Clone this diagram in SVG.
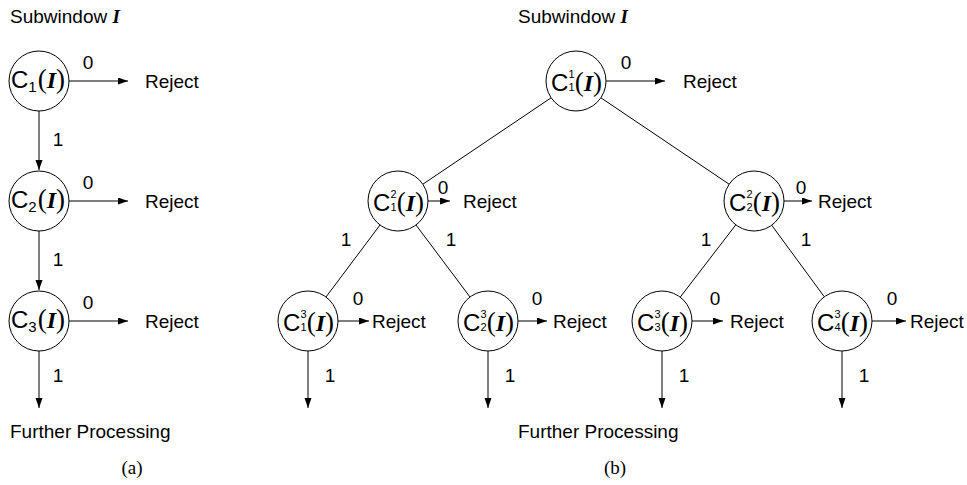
<svg xmlns="http://www.w3.org/2000/svg" width="967" height="485" viewBox="0 0 967 485">
<style>
text{font-family:"Liberation Sans",Arial,sans-serif;fill:#000}
.t{font-size:19px}
.n{font-size:24px}
.cap{font-family:"Liberation Serif","Times New Roman",serif;font-size:19px}
.I{font-family:"Liberation Serif","Times New Roman",serif;font-weight:bold;font-style:italic}
.p{font-family:"Liberation Serif","Times New Roman",serif;font-size:27px}
.p .I{font-size:24px}
.s1{font-size:15px}
.s2{font-size:11px}
.node circle{fill:#fff;stroke:#000;stroke-width:1}
.e{stroke:#000;stroke-width:1;fill:none}
.a{marker-end:url(#ah)}
</style>
<defs>
<marker id="ah" markerUnits="userSpaceOnUse" markerWidth="11" markerHeight="8" refX="10" refY="3.5" orient="auto">
<path d="M0,0 L10,3.5 L0,7 z" fill="#000"/>
</marker>
</defs>
<rect width="967" height="485" fill="#fff"/>
<text class="t" x="10" y="23">Subwindow <tspan class="I">I</tspan></text>
<text class="t" x="518" y="23">Subwindow <tspan class="I">I</tspan></text>
<g id="connectors">
<line class="e a" x1="69" y1="81" x2="128" y2="81"/>
<line class="e a" x1="69" y1="201" x2="128" y2="201"/>
<line class="e a" x1="69" y1="321" x2="128" y2="321"/>
<line class="e a" x1="39" y1="111" x2="39" y2="170"/>
<line class="e a" x1="39" y1="231" x2="39" y2="290"/>
<line class="e a" x1="39" y1="351" x2="39" y2="408"/>
<line class="e a" x1="606" y1="81" x2="665" y2="81"/>
<line class="e a" x1="428" y1="201" x2="450" y2="201"/>
<line class="e a" x1="784" y1="201" x2="812" y2="201"/>
<line class="e a" x1="338" y1="321" x2="369" y2="321"/>
<line class="e a" x1="518" y1="321" x2="547" y2="321"/>
<line class="e a" x1="692" y1="321" x2="723" y2="321"/>
<line class="e a" x1="872" y1="321" x2="906" y2="321"/>
<line class="e" x1="551.1" y1="97.8" x2="422.9" y2="184.2"/>
<line class="e" x1="600.9" y1="97.8" x2="729.1" y2="184.2"/>
<line class="e" x1="380" y1="225" x2="326" y2="297"/>
<line class="e" x1="416" y1="225" x2="470" y2="297"/>
<line class="e" x1="735.8" y1="224.8" x2="680.2" y2="297.2"/>
<line class="e" x1="771.7" y1="225.2" x2="824.3" y2="296.8"/>
<line class="e a" x1="308" y1="351" x2="308" y2="408"/>
<line class="e a" x1="488" y1="351" x2="488" y2="408"/>
<line class="e a" x1="662" y1="351" x2="662" y2="408"/>
<line class="e a" x1="842" y1="351" x2="842" y2="408"/>
<g class="t" text-anchor="middle">
<text x="88" y="69">0</text><text x="88" y="189">0</text><text x="88" y="309">0</text>
<text x="58" y="146">1</text><text x="58" y="266">1</text><text x="58" y="382">1</text>
<text x="626" y="69">0</text>
<text x="443" y="194">0</text><text x="801" y="194">0</text>
<text x="358" y="305">0</text><text x="537" y="305">0</text><text x="715" y="305">0</text><text x="892" y="305">0</text>
<text x="346" y="246">1</text><text x="451" y="246">1</text><text x="706" y="246">1</text><text x="806" y="246">1</text>
<text x="330" y="382">1</text><text x="510" y="382">1</text><text x="684" y="382">1</text><text x="864" y="382">1</text>
</g>
<g class="t">
<text x="145" y="88">Reject</text><text x="145" y="208">Reject</text><text x="145" y="328">Reject</text>
<text x="683" y="88">Reject</text>
<text x="463" y="208">Reject</text><text x="818" y="208">Reject</text>
<text x="372" y="328">Reject</text><text x="553" y="328">Reject</text><text x="730" y="328">Reject</text><text x="910" y="328">Reject</text>
</g>
</g>
<g id="a1" class="node"><circle cx="39" cy="81" r="30"/><text class="n" x="11" y="88">C<tspan class="s1" dy="4">1</tspan><tspan class="p" dy="-4" dx="1">(<tspan class="I">I</tspan>)</tspan></text></g>
<g id="a2" class="node"><circle cx="39" cy="201" r="30"/><text class="n" x="11" y="208">C<tspan class="s1" dy="4">2</tspan><tspan class="p" dy="-4" dx="1">(<tspan class="I">I</tspan>)</tspan></text></g>
<g id="a3" class="node"><circle cx="39" cy="321" r="30"/><text class="n" x="11" y="328">C<tspan class="s1" dy="4">3</tspan><tspan class="p" dy="-4" dx="1">(<tspan class="I">I</tspan>)</tspan></text></g>
<g id="b11" class="node"><circle cx="576" cy="81" r="30"/><text class="n" x="551" y="91">C<tspan class="s2" x="568.5" dy="-13">1</tspan><tspan class="s2" x="568.5" dy="13">1</tspan><tspan class="p">(<tspan class="I">I</tspan>)</tspan></text></g>
<g id="b21" class="node"><circle cx="398" cy="201" r="30"/><text class="n" x="373" y="211">C<tspan class="s2" x="390.5" dy="-13">2</tspan><tspan class="s2" x="390.5" dy="13">1</tspan><tspan class="p">(<tspan class="I">I</tspan>)</tspan></text></g>
<g id="b22" class="node"><circle cx="754" cy="201" r="30"/><text class="n" x="729" y="211">C<tspan class="s2" x="746.5" dy="-13">2</tspan><tspan class="s2" x="746.5" dy="13">2</tspan><tspan class="p">(<tspan class="I">I</tspan>)</tspan></text></g>
<g id="b31" class="node"><circle cx="308" cy="321" r="30"/><text class="n" x="283" y="331">C<tspan class="s2" x="300.5" dy="-13">3</tspan><tspan class="s2" x="300.5" dy="13">1</tspan><tspan class="p">(<tspan class="I">I</tspan>)</tspan></text></g>
<g id="b32" class="node"><circle cx="488" cy="321" r="30"/><text class="n" x="463" y="331">C<tspan class="s2" x="480.5" dy="-13">3</tspan><tspan class="s2" x="480.5" dy="13">2</tspan><tspan class="p">(<tspan class="I">I</tspan>)</tspan></text></g>
<g id="b33" class="node"><circle cx="662" cy="321" r="30"/><text class="n" x="637" y="331">C<tspan class="s2" x="654.5" dy="-13">3</tspan><tspan class="s2" x="654.5" dy="13">3</tspan><tspan class="p">(<tspan class="I">I</tspan>)</tspan></text></g>
<g id="b34" class="node"><circle cx="842" cy="321" r="30"/><text class="n" x="817" y="331">C<tspan class="s2" x="834.5" dy="-13">3</tspan><tspan class="s2" x="834.5" dy="13">4</tspan><tspan class="p">(<tspan class="I">I</tspan>)</tspan></text></g>
<text class="t" x="10" y="438">Further Processing</text>
<text class="t" x="518" y="438">Further Processing</text>
<text class="cap" x="132" y="474" text-anchor="middle">(a)</text>
<text class="cap" x="615" y="474" text-anchor="middle">(b)</text>
</svg>
